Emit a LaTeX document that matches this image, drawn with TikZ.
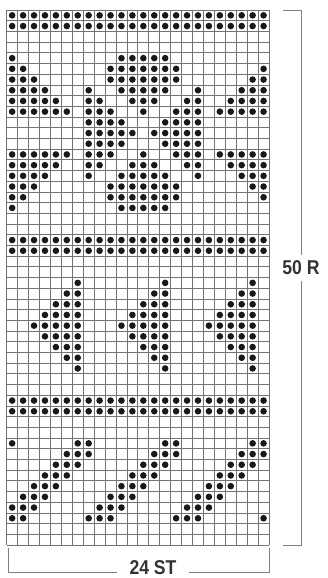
\documentclass[tikz,border=0pt]{standalone}
\usepackage{fontspec}
\newfontfamily\chartfont[FakeStretch=0.88]{Liberation Sans}
\usetikzlibrary{calc}

\begin{document}
\begin{tikzpicture}[
  x=1pt,y=-1pt,
  gridline/.style={draw=black!55,line width=0.8pt},
  stitch/.style={fill=black!90},
  lbl/.style={font={\chartfont\bfseries\fontsize{20}{20}\selectfont},text=black!80,inner ysep=2pt},
  dim/.style={draw=black!50,line width=0.8pt}
]
\useasboundingbox (0,0) rectangle (328,578);
\begin{scope}[shift={(6.7,10)},x=10.93pt,y=-10.7pt]
\foreach \i in {0,...,24} \draw[gridline] (\i,0) -- (\i,50);
\foreach \j in {0,...,50} \draw[gridline] (0,\j) -- (24,\j);
\foreach \r/\cs in {
  1/{1,...,24}, 2/{1,...,24},
  5/{1,11,12,13,14,15},
  6/{1,2,10,11,12,13,14,15,16,24},
  7/{1,2,3,10,11,12,13,14,15,16,23,24},
  8/{1,2,3,4,8,11,12,13,14,15,18,22,23,24},
  9/{1,2,3,4,5,8,9,12,13,14,17,18,21,22,23,24},
  10/{1,2,3,4,5,6,8,9,10,13,16,17,18,20,21,22,23,24},
  11/{8,9,10,11,15,16,17,18},
  12/{8,9,10,11,12,14,15,16,17,18},
  13/{8,9,10,11,15,16,17,18},
  14/{1,2,3,4,5,6,8,9,10,13,16,17,18,20,21,22,23,24},
  15/{1,2,3,4,5,8,9,12,13,14,17,18,21,22,23,24},
  16/{1,2,3,4,8,11,12,13,14,15,18,22,23,24},
  17/{1,2,3,10,11,12,13,14,15,16,23,24},
  18/{1,2,10,11,12,13,14,15,16,24},
  19/{1,11,12,13,14,15},
  22/{1,...,24}, 23/{1,...,24},
  26/{7,15,23},
  27/{6,7,14,15,22,23},
  28/{5,6,7,13,14,15,21,22,23},
  29/{4,5,6,7,12,13,14,15,20,21,22,23},
  30/{3,4,5,6,7,11,12,13,14,15,19,20,21,22,23},
  31/{4,5,6,7,12,13,14,15,20,21,22,23},
  32/{5,6,7,13,14,15,21,22,23},
  33/{6,7,14,15,22,23},
  34/{7,15,23},
  37/{1,...,24}, 38/{1,...,24},
  41/{1,7,8,15,16,23,24},
  42/{6,7,8,14,15,16,22,23,24},
  43/{5,6,7,13,14,15,21,22,23},
  44/{4,5,6,12,13,14,20,21,22},
  45/{3,4,5,11,12,13,19,20,21},
  46/{2,3,4,10,11,12,18,19,20},
  47/{1,2,3,9,10,11,17,18,19},
  48/{1,2,8,9,10,16,17,18,24}}
  \foreach \c in \cs \fill[stitch] (\c-0.5,\r-0.5) circle[radius=3.3pt];
\end{scope}

\coordinate (rtop) at (301,10);
\coordinate (rbot) at (301,545);
\coordinate (bl) at (8,572);
\coordinate (br) at (269,572);
\node[lbl,inner ysep=6pt] (rows) at (301,268) {50 R};
\node[lbl,inner xsep=12pt] (sts) at (153,568) {24 ST};

\draw[dim] (rtop) ++(-18,0) -- (rtop) -- (rows.north);
\draw[dim] (rbot) ++(-18,0) -- (rbot) -- (rows.south);
\draw[dim] (bl) ++(0,-24) -- (bl) -- (bl -| sts.west);
\draw[dim] (br) ++(0,-24) -- (br) -- (br -| sts.east);
\end{tikzpicture}
\end{document}
